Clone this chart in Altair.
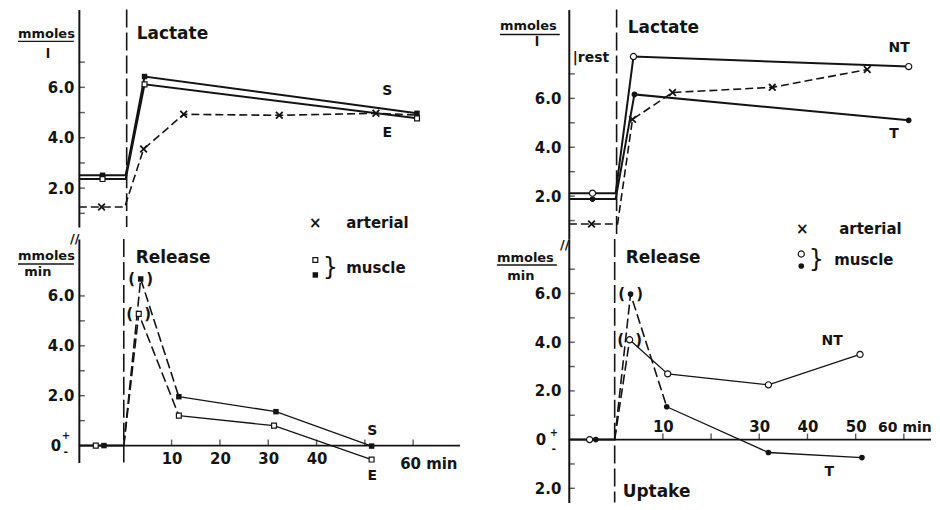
import altair as alt
import pandas as pd

FONT = "DejaVu Sans"
INK = "#141414"

# ---------------- values (time in min, values in mmoles) ----------------
# Left figure, upper panel (Lactate, mmoles/l): S = filled, E = open, arterial = x
LT_S_T = [-9.2, -4.3, 0.5, 4.4, 60.8]
LT_S_V = [2.51, 2.51, 2.51, 6.43, 4.97]
LT_S_M = [0, 1, 0, 1, 1]
LT_E_T = [-9.2, -4.3, 0.5, 4.4, 60.8]
LT_E_V = [2.36, 2.36, 2.36, 6.12, 4.77]
LT_E_M = [0, 1, 0, 1, 1]
LT_A_T = [-9.2, -4.5, 0.3, 4.2, 12.5, 32.3, 52.3, 60.8]
LT_A_V = [1.25, 1.25, 1.25, 3.55, 4.93, 4.89, 4.97, 4.90]
LT_A_M = [0, 1, 0, 1, 1, 1, 1, 0]

# Left figure, lower panel (Release, mmoles/min)
LB_REST_T = [-9.2, 0.1]
LB_REST_V = [0.0, 0.0]
LB_REST_E_T = [-5.7]
LB_REST_S_T = [-4.0]
LB_S_DASH_T = [0.1, 3.6, 11.5]
LB_S_DASH_V = [0.0, 6.68, 1.96]
LB_S_T = [11.5, 31.6, 51.4]
LB_S_V = [1.96, 1.36, -0.02]
LB_E_DASH_T = [0.1, 3.2, 11.5]
LB_E_DASH_V = [0.0, 5.28, 1.20]
LB_E_T = [11.5, 31.2, 51.4]
LB_E_V = [1.20, 0.80, -0.56]

# Right figure, upper panel (Lactate): NT = open, T = filled, arterial = x
RT_NT_T = [-9.5, -4.6, 0.2, 3.9, 61.0]
RT_NT_V = [2.12, 2.12, 2.12, 7.71, 7.30]
RT_NT_M = [0, 1, 0, 1, 1]
RT_T_T = [-9.5, -4.6, 0.2, 4.1, 61.0]
RT_T_V = [1.88, 1.88, 1.88, 6.16, 5.10]
RT_T_M = [0, 1, 0, 1, 1]
RT_A_T = [-9.5, -4.8, 0.6, 3.7, 12.0, 32.7, 52.4]
RT_A_V = [0.86, 0.86, 0.86, 5.14, 6.24, 6.45, 7.18]
RT_A_M = [0, 1, 0, 1, 1, 1, 1]

# Right figure, lower panel (Release / Uptake)
RB_REST_T = [-9.5, 0.0]
RB_REST_V = [0.0, 0.0]
RB_REST_NT_T = [-5.2]
RB_REST_T_T = [-3.9]
RB_T_DASH_T = [0.0, 3.3, 10.8]
RB_T_DASH_V = [0.0, 5.98, 1.35]
RB_T_T = [10.8, 31.9, 51.3]
RB_T_V = [1.35, -0.53, -0.74]
RB_NT_DASH_T = [0.0, 3.1]
RB_NT_DASH_V = [0.0, 4.10]
RB_NT_T = [3.1, 11.0, 31.9, 50.9]
RB_NT_V = [4.10, 2.70, 2.25, 3.50]

# axis ticks / labels
LT_YLAB = [2, 4, 6]
LT_YTICK = [1, 2, 3, 4, 5, 6, 7]
LB_YLAB = [2, 4, 6]
LB_YTICK = [1, 2, 3, 4, 5, 6]
RT_YLAB = [2, 4, 6]
RT_YTICK = [1, 2, 3, 4, 5, 6, 7]
RB_YLAB = [-2, 2, 4, 6]
RB_YTICK = [-2, -1, 1, 2, 3, 4, 5, 6, 7]
LB_XLAB = [10, 20, 30, 40]
LB_XTICK = [10, 20, 30, 40, 50, 60]
RB_XLAB = [10, 30, 40, 50]
RB_XTICK = [10, 20, 30, 40, 50, 60]

ONE = pd.DataFrame({"k": [0]})

# ---------------- build tables ----------------
def build(series):
    lines, points = [], []
    for seg, style, marker, T, V, M, paren in series:
        for i, (t, v) in enumerate(zip(T, V)):
            if style:
                lines.append(dict(seg=seg, style=style, t=t, v=v))
            if marker and (M is None or M[i]):
                points.append(dict(marker=marker, t=t, v=v, paren=(paren == i)))
    return pd.DataFrame(lines), pd.DataFrame(points)


LT = build([
    ("S", "thick", "sq_f", LT_S_T, LT_S_V, LT_S_M, None),
    ("E", "thick", "sq_o", LT_E_T, LT_E_V, LT_E_M, None),
    ("A", "dash", "x", LT_A_T, LT_A_V, LT_A_M, None),
])
LB = build([
    ("rest", "thick", None, LB_REST_T, LB_REST_V, None, None),
    ("rE", None, "sq_o", LB_REST_E_T, [0.0], None, None),
    ("rS", None, "sq_f", LB_REST_S_T, [0.0], None, None),
    ("Sd", "dash2", "sq_f", LB_S_DASH_T, LB_S_DASH_V, [0, 1, 0], 1),
    ("Ss", "thin", "sq_f", LB_S_T, LB_S_V, None, None),
    ("Ed", "dash2", "sq_o", LB_E_DASH_T, LB_E_DASH_V, [0, 1, 0], 1),
    ("Es", "thin", "sq_o", LB_E_T, LB_E_V, None, None),
])
RT = build([
    ("NT", "thick", "ci_o", RT_NT_T, RT_NT_V, RT_NT_M, None),
    ("T", "thick", "ci_f", RT_T_T, RT_T_V, RT_T_M, None),
    ("A", "dash", "x", RT_A_T, RT_A_V, RT_A_M, None),
])
RB = build([
    ("rest", "thick", None, RB_REST_T, RB_REST_V, None, None),
    ("rNT", None, "ci_o", RB_REST_NT_T, [0.0], None, None),
    ("rT", None, "ci_f", RB_REST_T_T, [0.0], None, None),
    ("Td", "dash2", "ci_f", RB_T_DASH_T, RB_T_DASH_V, [0, 1, 0], 1),
    ("Ts", "thin", "ci_f", RB_T_T, RB_T_V, None, None),
    ("NTd", "dash2", "ci_o", RB_NT_DASH_T, RB_NT_DASH_V, [0, 1], 1),
    ("NTs", "thin", "ci_o", RB_NT_T, RB_NT_V, [0, 1, 1, 1], None),
])

LINE_STYLE = {
    "thick": dict(strokeWidth=2.0),
    "thin": dict(strokeWidth=1.3),
    "dash": dict(strokeWidth=1.6, strokeDash=[8, 4]),
    "dash2": dict(strokeWidth=1.6, strokeDash=[10, 4]),
}
XPATH = "M-1,-1L1,1M-1,1L1,-1"
MARKER_STYLE = {
    "sq_f": dict(shape="square", filled=True, color=INK, size=30),
    "sq_o": dict(shape="square", filled=True, color="white", stroke=INK, strokeWidth=1.2, size=24),
    "ci_f": dict(shape="circle", filled=True, color=INK, size=32),
    "ci_o": dict(shape="circle", filled=True, color="white", stroke=INK, strokeWidth=1.2, size=38),
    "x": dict(shape=XPATH, filled=False, color=INK, strokeWidth=1.8, size=45),
}


def txt(s, x, y, size=14, align="left", clip=False, weight="bold"):
    return alt.Chart(ONE).mark_text(
        text=s, fontSize=size, align=align, baseline="middle", font=FONT,
        fontWeight=weight, color=INK, clip=clip,
    ).encode(x=alt.value(x), y=alt.value(y))


def uline(x1, x2, y):
    return alt.Chart(ONE).mark_rule(color=INK, strokeWidth=1.3).encode(
        x=alt.value(x1), x2=alt.value(x2), y=alt.value(y))


def sym(marker, x, y):
    return alt.Chart(ONE).mark_point(opacity=1, **MARKER_STYLE[marker]).encode(
        x=alt.value(x), y=alt.value(y))


def panel(tables, w, h, xdom, ydom, ylab, ytick, ypad, xaxis, xtick, zero, vrule, extras):
    lines, points = tables
    yaxis = alt.Axis(values=ylab, labelExpr="format(abs(datum.value), '.1f')", ticks=False,
                     domain=True, domainColor=INK, domainWidth=2, grid=False, labelPadding=ypad,
                     labelFont=FONT, labelFontSize=15, labelFontWeight="bold", labelColor=INK,
                     labelOverlap=False, title=None)
    xs = alt.Scale(domain=xdom, nice=False, zero=False)
    ys = alt.Scale(domain=ydom, nice=False, zero=False)

    def X():
        return alt.X("t:Q", scale=xs, axis=xaxis, title=None)

    def Y():
        return alt.Y("v:Q", scale=ys, axis=yaxis, title=None)

    layers = []
    layers.append(alt.Chart(pd.DataFrame({"t": [vrule]})).mark_rule(
        color=INK, strokeWidth=1.6, strokeDash=[18, 5]).encode(x=X()))
    if zero:
        layers.append(alt.Chart(pd.DataFrame({"v": [0.0]})).mark_rule(
            color=INK, strokeWidth=1.8).encode(y=Y()))
    layers.append(alt.Chart(pd.DataFrame({"v": ytick})).mark_tick(
        orient="horizontal", size=6, thickness=1.4, xOffset=3, color=INK).encode(
        y=Y(), x=alt.value(0)))
    if xtick:
        layers.append(alt.Chart(pd.DataFrame({"t": xtick, "v": [0.0] * len(xtick)})).mark_tick(
            orient="vertical", size=6, thickness=1.4, yOffset=-3, color=INK).encode(x=X(), y=Y()))
    for style, props in LINE_STYLE.items():
        d = lines[lines["style"] == style]
        if len(d):
            layers.append(alt.Chart(d).mark_line(color=INK, **props).encode(
                x=X(), y=Y(), detail="seg:N"))
    pr = points[points["paren"]]
    if len(pr):
        for ch, dx in (("(", -9), (")", 9)):
            layers.append(alt.Chart(pr).mark_text(
                text=ch, dx=dx, fontSize=15, font=FONT, fontWeight="bold", color=INK,
                baseline="middle").encode(x=X(), y=Y()))
    for mk, props in MARKER_STYLE.items():
        d = points[points["marker"] == mk]
        if len(d):
            layers.append(alt.Chart(d).mark_point(opacity=1, **props).encode(x=X(), y=Y()))
    layers.extend(extras)
    return alt.layer(*layers).properties(width=w, height=h)


LFONT = 17

lt = panel(LT, 382, 218, [-9.2, 69.7], [0.455, 9.089], LT_YLAB, LT_YTICK, 5, None, None, False, 0.7, [
    txt("mmoles", -61, 25, 13), uline(-61, -5, 32), txt("l", -31, 45, 13, "center"),
    txt("Lactate", 58, 25, LFONT),
    txt("×", 237, 214, 15, "center"), txt("arterial", 268, 214, 15),
    txt("S", 309, 82, 14, "center"), txt("E", 309, 124, 14, "center"),
])

lb_xaxis = alt.Axis(orient="bottom", offset=-17, values=LB_XLAB, ticks=False, domain=False, grid=False,
                    labelPadding=6, labelFont=FONT, labelFontSize=15, labelFontWeight="bold",
                    labelColor=INK, labelOverlap=False, title=None)
lb = panel(LB, 382, 224, [-9.2, 69.7], [-0.68, 8.28], LB_YLAB, LB_YTICK, 5, lb_xaxis, LB_XTICK, True, 0.1, [
    txt("//", -4, 0, 13, "center"),
    txt("mmoles", -61, 17, 13), uline(-61, -5, 25), txt("min", -41, 33, 13, "center"),
    txt("Release", 57, 19, LFONT),
    sym("sq_o", 237, 21), sym("sq_f", 237, 36), txt("}", 252, 29, 24, "center", weight="normal"),
    txt("muscle", 268, 29, 15),
    txt("S", 294, 192, 14, "center"), txt("E", 294, 237, 14, "center"),
    txt("0", -23, 207, 15, "center"), txt("+", -13, 197, 10, "center"), txt("-", -13, 213, 11, "center"),
    txt("60 min", 322, 225, 15),
])

rt = panel(RT, 363, 230, [-9.52, 65.63], [0.245, 9.633], RT_YLAB, RT_YTICK, 8, None, None, False, 0.4, [
    txt("mmoles", -69, 17, 13), uline(-69, -9, 25), txt("l", -32, 33, 13, "center"),
    txt("|rest", 4, 49, 14),
    txt("Lactate", 59, 19, LFONT),
    txt("×", 234, 220, 15, "center"), txt("arterial", 271, 220, 15),
    txt("NT", 331, 39, 14, "center"), txt("T", 326, 125, 14, "center"),
])

rb_xaxis = alt.Axis(orient="top", offset=-201, values=RB_XLAB, ticks=False, domain=False, grid=False,
                    labelPadding=5, labelFont=FONT, labelFontSize=15, labelFontWeight="bold",
                    labelColor=INK, labelOverlap=False, title=None)
rb = panel(RB, 363, 264, [-9.52, 65.63], [-2.582, 8.238], RB_YLAB, RB_YTICK, 8, rb_xaxis, RB_XTICK, True, 0.0, [
    txt("//", -4, 6, 13, "center"),
    txt("mmoles", -72, 19, 13), uline(-72, -12, 26), txt("min", -48, 37, 13, "center"),
    txt("Release", 57, 19, LFONT), txt("Uptake", 54, 254, LFONT),
    sym("ci_o", 233, 15), sym("ci_f", 233, 27), txt("}", 248, 21, 24, "center", weight="normal"),
    txt("muscle", 266, 21, 15),
    txt("NT", 264, 102, 14, "center"), txt("T", 261, 233, 14, "center"),
    txt("0", -28, 201, 15, "center"), txt("+", -15, 194, 10, "center"), txt("-", -15, 210, 11, "center"),
    txt("60 min", 310, 189, 14),
])

chart = alt.concat(
    lt, rt, lb, rb, columns=2, spacing={"row": 0, "column": 109}, bounds="flush", align="none",
).properties(
    padding={"left": 9, "top": 0, "right": 0, "bottom": 0}, background="white",
).configure_view(stroke=None)

chart.save("out.html", embed_options={"renderer": "svg", "actions": False})
